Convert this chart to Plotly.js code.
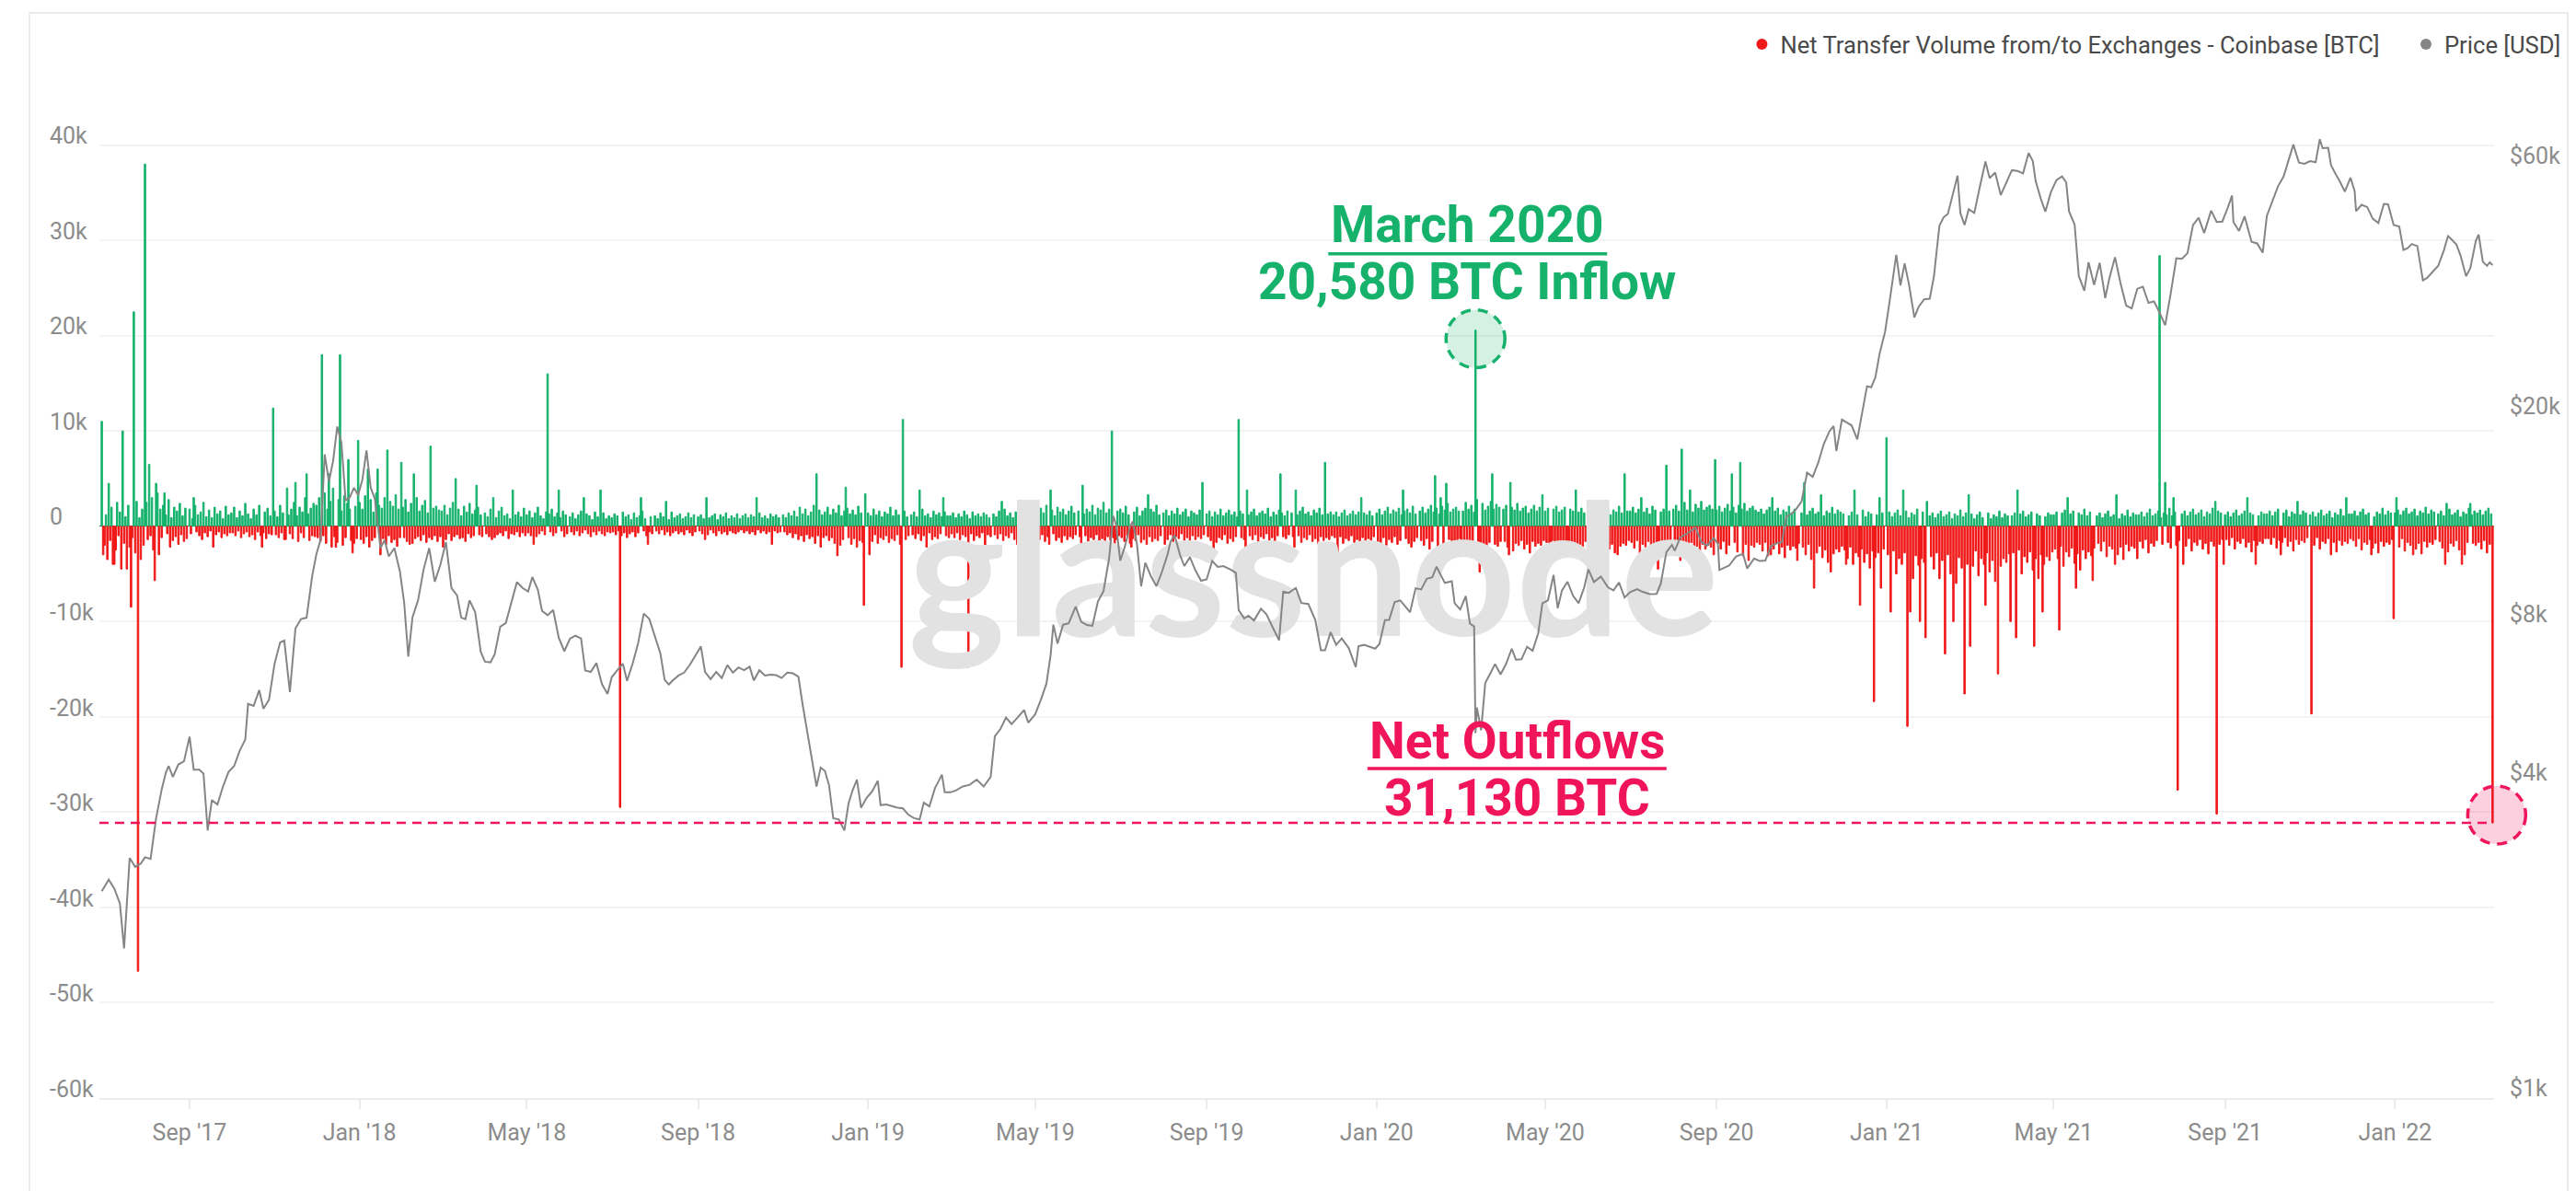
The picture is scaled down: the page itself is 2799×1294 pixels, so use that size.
<!DOCTYPE html>
<html>
<head>
<meta charset="utf-8">
<script src="https://cdn.plot.ly/plotly-3.0.1.min.js"></script>
<style>
html,body{margin:0;padding:0;background:#ffffff;}
#chart{width:2799px;height:1294px;}
</style>
</head>
<body>
<div id="chart"></div>
<script>
// ---------------- DATA ----------------
const seriesName = 'Net Transfer Volume from/to Exchanges - Coinbase [BTC]';
const priceName = 'Price [USD]';

// BTC price (USD)
const priceDates = [
'2017-06-30','2017-07-05','2017-07-09','2017-07-13','2017-07-16','2017-07-20','2017-07-24','2017-07-28','2017-07-31','2017-08-04','2017-08-08','2017-08-12','2017-08-15','2017-08-17','2017-08-20','2017-08-24','2017-08-28','2017-09-01','2017-09-04','2017-09-08','2017-09-11','2017-09-14','2017-09-17','2017-09-21','2017-09-25','2017-09-29','2017-10-03','2017-10-07','2017-10-11','2017-10-13','2017-10-17','2017-10-21','2017-10-24','2017-10-28','2017-11-01','2017-11-05','2017-11-08','2017-11-12','2017-11-16','2017-11-20','2017-11-24','2017-11-28','2017-12-01','2017-12-04','2017-12-07','2017-12-10','2017-12-13','2017-12-16','2017-12-19','2017-12-22','2017-12-25','2017-12-28','2017-12-31',
'2018-01-03','2018-01-06','2018-01-09','2018-01-12','2018-01-16','2018-01-19','2018-01-22','2018-01-26','2018-01-30','2018-02-02','2018-02-05','2018-02-08','2018-02-12','2018-02-16','2018-02-20','2018-02-24','2018-02-28','2018-03-04','2018-03-08','2018-03-12','2018-03-15','2018-03-18','2018-03-21','2018-03-25','2018-03-29','2018-04-01','2018-04-05','2018-04-08','2018-04-12','2018-04-16','2018-04-20','2018-04-24','2018-04-28','2018-05-02','2018-05-05','2018-05-09','2018-05-12','2018-05-16','2018-05-20','2018-05-24','2018-05-28','2018-06-01','2018-06-05','2018-06-09','2018-06-12','2018-06-16','2018-06-20','2018-06-24','2018-06-28','2018-07-01','2018-07-05','2018-07-09','2018-07-12','2018-07-16','2018-07-20','2018-07-24','2018-07-28','2018-08-01','2018-08-05','2018-08-08','2018-08-11','2018-08-14','2018-08-18','2018-08-22','2018-08-26','2018-08-30','2018-09-03','2018-09-06','2018-09-10','2018-09-14','2018-09-18','2018-09-22','2018-09-26','2018-09-30','2018-10-04','2018-10-08','2018-10-11','2018-10-15','2018-10-19','2018-10-23','2018-10-27','2018-10-31','2018-11-04','2018-11-08','2018-11-12','2018-11-15','2018-11-19','2018-11-22','2018-11-25','2018-11-28','2018-12-01','2018-12-04','2018-12-07','2018-12-11','2018-12-15','2018-12-18','2018-12-21','2018-12-24','2018-12-27','2018-12-31',
'2019-01-04','2019-01-08','2019-01-10','2019-01-14','2019-01-18','2019-01-22','2019-01-26','2019-01-30','2019-02-03','2019-02-07','2019-02-10','2019-02-14','2019-02-18','2019-02-23','2019-02-25','2019-03-01','2019-03-05','2019-03-10','2019-03-15','2019-03-20','2019-03-25','2019-03-30','2019-04-02','2019-04-06','2019-04-10','2019-04-14','2019-04-18','2019-04-23','2019-04-26','2019-05-01','2019-05-05','2019-05-09','2019-05-12','2019-05-14','2019-05-17','2019-05-21','2019-05-25','2019-05-30','2019-06-03','2019-06-07','2019-06-11','2019-06-15','2019-06-19','2019-06-23','2019-06-26','2019-06-28','2019-07-01','2019-07-04','2019-07-08','2019-07-10','2019-07-13','2019-07-16','2019-07-19','2019-07-23','2019-07-27','2019-07-31','2019-08-04','2019-08-06','2019-08-09','2019-08-13','2019-08-16','2019-08-20','2019-08-24','2019-08-28','2019-09-01','2019-09-05','2019-09-09','2019-09-13','2019-09-18','2019-09-22','2019-09-24','2019-09-28','2019-10-01','2019-10-05','2019-10-10','2019-10-14','2019-10-18','2019-10-23','2019-10-26','2019-10-30','2019-11-04','2019-11-08','2019-11-13','2019-11-18','2019-11-22','2019-11-25','2019-11-29','2019-12-03','2019-12-07','2019-12-12','2019-12-17','2019-12-19','2019-12-23','2019-12-27','2019-12-31',
'2020-01-03','2020-01-07','2020-01-10','2020-01-14','2020-01-18','2020-01-22','2020-01-25','2020-01-29','2020-02-02','2020-02-06','2020-02-10','2020-02-13','2020-02-16','2020-02-19','2020-02-24','2020-02-26','2020-03-01','2020-03-05','2020-03-08','2020-03-11','2020-03-12','2020-03-13','2020-03-16','2020-03-19','2020-03-23','2020-03-26','2020-03-30','2020-04-03','2020-04-07','2020-04-10','2020-04-14','2020-04-18','2020-04-22','2020-04-26','2020-04-29','2020-05-03','2020-05-07','2020-05-10','2020-05-13','2020-05-17','2020-05-21','2020-05-25','2020-05-29','2020-06-01','2020-06-05','2020-06-10','2020-06-15','2020-06-19','2020-06-23','2020-06-27','2020-07-01','2020-07-06','2020-07-10','2020-07-15','2020-07-20','2020-07-23','2020-07-27','2020-07-31','2020-08-02','2020-08-06','2020-08-10','2020-08-17','2020-08-21','2020-08-25','2020-08-30','2020-09-02','2020-09-03','2020-09-06','2020-09-10','2020-09-15','2020-09-20','2020-09-23','2020-09-28','2020-10-02','2020-10-06','2020-10-10','2020-10-14','2020-10-18','2020-10-21','2020-10-25','2020-10-28','2020-11-01','2020-11-05','2020-11-09','2020-11-13','2020-11-17','2020-11-21','2020-11-24','2020-11-26','2020-11-30','2020-12-03','2020-12-07','2020-12-11','2020-12-16','2020-12-18','2020-12-21','2020-12-24','2020-12-27','2020-12-31',
'2021-01-03','2021-01-07','2021-01-08','2021-01-11','2021-01-14','2021-01-17','2021-01-21','2021-01-24','2021-01-28','2021-02-01','2021-02-04','2021-02-08','2021-02-11','2021-02-14','2021-02-17','2021-02-21','2021-02-23','2021-02-26','2021-03-01','2021-03-05','2021-03-09','2021-03-13','2021-03-16','2021-03-20','2021-03-24','2021-03-28','2021-04-01','2021-04-05','2021-04-09','2021-04-13','2021-04-16','2021-04-18','2021-04-22','2021-04-25','2021-04-29','2021-05-03','2021-05-07','2021-05-10','2021-05-12','2021-05-16','2021-05-19','2021-05-23','2021-05-26','2021-05-30','2021-06-03','2021-06-07','2021-06-10','2021-06-14','2021-06-18','2021-06-22','2021-06-26','2021-06-30','2021-07-04','2021-07-08','2021-07-12','2021-07-16','2021-07-20','2021-07-24','2021-07-28','2021-08-01','2021-08-05','2021-08-09','2021-08-13','2021-08-17','2021-08-22','2021-08-26','2021-08-30','2021-09-03','2021-09-06','2021-09-07','2021-09-11','2021-09-15','2021-09-20','2021-09-24','2021-09-28','2021-10-01','2021-10-05','2021-10-09','2021-10-13','2021-10-16','2021-10-20','2021-10-24','2021-10-28','2021-11-01','2021-11-05','2021-11-08','2021-11-10','2021-11-14','2021-11-16','2021-11-19','2021-11-22','2021-11-26','2021-11-30','2021-12-03','2021-12-04','2021-12-08','2021-12-12','2021-12-16','2021-12-20','2021-12-24','2021-12-27','2021-12-31',
'2022-01-04','2022-01-07','2022-01-10','2022-01-13','2022-01-17','2022-01-21','2022-01-24','2022-01-28','2022-02-01','2022-02-05','2022-02-08','2022-02-10','2022-02-14','2022-02-17','2022-02-21','2022-02-24','2022-02-28','2022-03-02','2022-03-05','2022-03-08','2022-03-10','2022-03-12'
];
const priceValues = [
2480,2610,2510,2350,1930,2870,2760,2800,2880,2860,3420,3880,4180,4300,4100,4330,4390,4890,4230,4230,4160,3240,3700,3630,3930,4190,4300,4600,4830,5650,5600,6000,5530,5750,6740,7400,7460,5950,7870,8200,8250,9900,10900,11600,16900,15000,16400,19100,17800,13800,14000,14600,14150,
15100,17200,14600,13900,11200,11600,10800,11200,10100,8830,6950,8260,8900,10200,11200,9660,10400,11500,9400,9100,8250,8200,8900,8450,7100,6800,6780,7020,7930,8060,8850,9650,9400,9250,9860,9320,8500,8340,8530,7550,7120,7520,7620,7530,6540,6500,6760,6160,5900,6350,6550,6740,6250,6740,7380,8400,8200,7600,7040,6280,6150,6270,6400,6480,6700,6980,7270,6500,6300,6500,6330,6700,6480,6630,6550,6650,6260,6550,6400,6420,6410,6330,6480,6460,6370,5640,4870,4380,3930,4270,4210,3950,3420,3400,3240,3650,3870,4050,3580,3740,
3850,4030,3620,3630,3600,3580,3570,3470,3420,3400,3660,3600,3900,4140,3830,3830,3860,3930,3960,4050,3930,4100,4900,5060,5320,5170,5310,5500,5200,5400,5750,6170,6990,8000,7360,8000,8050,8660,8100,7990,7960,8860,9270,10700,12900,12400,10600,11200,12300,12600,11400,9470,10500,9900,9470,10100,10900,11500,11850,10850,10350,10760,10150,9700,9760,10580,10310,10350,10200,10050,8530,8220,8320,8150,8580,8370,7950,7470,9250,9200,9400,8800,8760,8170,7150,7150,7740,7320,7530,7220,6640,7280,7320,7250,7200,
7350,8160,8170,8840,8900,8650,8450,9390,9340,9790,9850,10320,9930,9610,9680,8790,8550,9070,8040,7940,4970,5560,5030,6190,6490,6730,6430,6740,7200,6860,6870,7260,7130,7700,8790,8900,9950,8600,9290,9660,9080,8790,9420,10200,9650,9880,9430,9300,9630,9010,9230,9350,9240,9150,9160,9590,11000,11350,11070,11750,11900,12250,11520,11320,11700,11420,10170,10250,10370,10790,10920,10240,10700,10580,10600,11300,11430,11500,12850,13030,13280,13740,15600,15310,16300,17700,18700,19150,17150,19700,19450,19190,18050,21300,22800,22700,23700,26300,28990,
32800,39400,40600,35500,39100,35800,30850,32300,33400,33500,36900,46200,47900,48600,52100,57500,48800,46300,49600,48800,54800,61200,56900,58300,52800,55800,58900,58700,58100,63500,61300,56200,51700,49100,53500,56400,57300,55800,49150,46400,37000,34700,39300,35600,39200,33600,36700,40200,35800,32500,32100,35000,35300,32900,33100,31500,29800,34300,40000,39900,40900,46300,47800,44700,49300,46900,47000,50000,52700,46900,45100,48100,43000,42700,41000,48200,51500,54900,57300,60900,65900,60900,60600,61300,61000,67500,64900,65000,60300,58100,56300,53600,57000,53700,49200,50600,50100,47600,46700,50800,50700,46300,
46000,41500,41800,42600,42200,36300,36700,37700,38700,41400,44100,43600,42500,40500,37000,38300,43200,44400,39400,38700,39300,38800
];

// Notable daily net transfers (BTC)
const spikeDates = [
'2017-06-30','2017-07-15','2017-07-23','2017-07-31','2017-08-03','2017-08-08','2017-08-14','2017-09-04','2017-10-31','2017-11-10','2017-11-16','2017-11-24','2017-12-05','2017-12-10','2017-12-18','2017-12-24','2017-12-31',
'2018-01-07','2018-01-14','2018-01-21','2018-01-31','2018-02-09','2018-02-21','2018-03-11','2018-03-26','2018-04-07','2018-04-21','2018-05-16','2018-05-24','2018-06-11','2018-06-23','2018-07-22','2018-08-09','2018-09-07','2018-10-13','2018-11-25','2018-12-16','2018-12-30',
'2019-01-26','2019-02-07','2019-02-24','2019-04-07','2019-05-12','2019-06-04','2019-06-25','2019-07-21','2019-08-29','2019-09-24','2019-09-30','2019-10-24','2019-11-04','2019-11-25','2019-12-21',
'2020-01-20','2020-02-12','2020-02-16','2020-02-20','2020-03-12','2020-03-24','2020-04-06','2020-04-29','2020-05-23','2020-06-27','2020-07-09','2020-07-27','2020-08-07','2020-08-13','2020-08-31','2020-09-12','2020-09-18','2020-10-11','2020-11-03','2020-11-15','2020-12-09','2020-12-27',
'2021-01-01','2021-01-13','2021-01-30','2021-03-01','2021-04-05','2021-05-11','2021-06-15','2021-07-16','2021-07-20','2021-07-26','2021-08-25','2021-09-17','2021-10-23','2021-11-27','2022-01-02','2022-02-07','2022-02-24',
'2017-07-01','2017-07-09','2017-07-14','2017-07-21','2017-07-26','2017-08-02','2017-08-07','2017-09-18','2017-10-23','2017-11-09','2017-12-15','2017-12-27',
'2018-01-08','2018-01-16','2018-02-06','2018-03-02','2018-04-06','2018-05-06','2018-07-07','2018-07-27','2018-09-06','2018-10-24','2018-11-28','2018-12-10','2018-12-29',
'2019-01-02','2019-01-25','2019-02-12','2019-03-14','2019-03-26','2019-04-18','2019-05-11','2019-06-03','2019-06-27','2019-07-09','2019-08-02','2019-09-06','2019-09-29','2019-11-03','2019-12-04',
'2020-01-02','2020-01-26','2020-02-14','2020-02-18','2020-03-04','2020-03-15','2020-04-05','2020-05-05','2020-05-17','2020-06-10','2020-06-22','2020-07-08','2020-07-21','2020-08-06','2020-08-30','2020-09-24','2020-10-10','2020-10-29','2020-11-10','2020-11-22','2020-12-03','2020-12-13','2020-12-23','2020-12-28',
'2021-01-04','2021-01-16','2021-01-18','2021-01-25','2021-01-29','2021-02-12','2021-02-18','2021-02-26','2021-03-02','2021-03-13','2021-03-22','2021-03-31','2021-04-04','2021-04-17','2021-04-23','2021-05-05','2021-05-17','2021-05-29','2021-06-14','2021-06-30','2021-07-29','2021-08-02','2021-08-26','2021-08-31','2021-09-23','2021-10-11','2021-11-02','2021-11-16','2021-12-15','2021-12-31',
'2022-01-14','2022-02-06','2022-02-18','2022-03-12'
];
const spikeValues = [
11000,10000,22500,38000,6500,4500,3500,3000,12400,4000,4600,5500,18000,5500,18000,7000,9000,
6000,6000,8000,6700,5500,8400,5000,4300,3000,3800,16000,3800,3000,3800,3000,2600,3000,3000,5500,4100,3400,
11200,3800,3000,2600,3800,4300,10000,3300,4600,11200,3800,5500,3800,6700,3000,
3800,5300,3000,4500,20580,5500,4600,3300,3800,5500,3000,6400,8100,3800,7000,5500,6700,3000,4600,3300,3800,3000,
9300,3800,2600,3300,3800,3000,3300,28400,4600,3000,2600,3000,2600,3000,3000,2400,2400,
-3000,-4000,-4500,-8500,-46700,-1400,-5700,-2200,-2200,-1400,-2200,-2800,
-2200,-3000,-1900,-2200,-1400,-1900,-29500,-1900,-1400,-1900,-2200,-3100,-8300,
-3000,-14800,-2200,-14800,-2800,-1900,-1900,-2200,-3000,-2200,-1900,-2800,-3000,-2200,-3000,
-3000,-2200,-5500,-3100,-2900,-4800,-3000,-4000,-2800,-4000,-3000,-4000,-4500,-3600,-3000,-3600,-3000,-3600,-6500,-4800,-4000,-8300,-18400,-6500,
-9000,-21000,-9000,-10000,-11700,-13400,-10000,-17600,-12600,-8300,-15500,-10000,-11700,-12600,-9000,-10900,-6500,-5700,-4000,-3400,-27700,-4000,-30200,-4000,-4000,-3000,-19700,-3000,-3000,-9700,
-3000,-4000,-4000,-31130
];

// Everyday background flows, in hundreds of BTC, one row per month starting Jul 2017
// inflow days: 1st,3rd,5th...; outflow days: 2nd,4th,6th...
const inflowBase = [
[30,12,45,20,8,25,15,38,10,22,30,14,26,9,18],
[25,14,30,10,35,18,22,12,28,9,20,16,24,11,19],
[18,8,22,12,15,25,10,17,9,20,13,16,8,21,12],
[14,20,9,16,11,24,13,8,18,12,22,10,15,19,11],
[16,10,22,14,28,12,18,25,11,20,15,30,13,19,24],
[22,30,15,35,18,26,40,20,28,16,32,24,18,27,21],
[25,18,32,20,28,15,35,22,19,30,17,26,21,33,18],
[20,28,15,24,18,30,16,22,27,14,25,19,21,17,23],
[16,22,12,19,25,14,18,11,21,15,24,13,17,20,12],
[14,10,18,12,9,16,20,11,13,8,17,12,15,10,19],
[12,16,9,14,20,11,8,15,13,18,10,14,9,16,12],
[10,14,8,12,16,9,13,11,7,15,10,12,14,8,11],
[9,13,11,8,15,10,12,7,14,9,11,16,8,12,10],
[11,8,14,10,12,7,15,9,11,13,8,10,14,9,12],
[10,12,8,15,9,11,13,7,12,10,14,8,11,9,13],
[8,11,13,9,12,10,7,14,9,11,8,13,10,12,9],
[12,9,14,11,16,10,20,13,18,11,15,22,14,17,12],
[15,20,12,18,14,22,11,16,19,13,17,12,21,14,16],
[14,11,18,12,16,10,15,13,20,11,17,12,14,16,10],
[12,15,10,14,18,11,13,9,16,12,14,10,15,11,13],
[11,14,9,13,10,16,12,8,15,11,13,10,14,12,9],
[13,10,16,12,18,11,14,9,15,13,17,10,12,14,11],
[15,12,19,14,22,13,17,11,20,15,18,12,16,21,14],
[16,20,13,18,15,22,12,19,17,25,14,18,21,13,16],
[18,14,21,12,17,15,20,11,16,19,13,18,15,22,12],
[14,17,11,16,13,19,12,15,18,10,16,14,12,17,11],
[13,16,10,15,12,18,11,14,17,12,15,10,16,13,14],
[12,15,18,11,14,16,13,19,10,15,12,17,14,11,16],
[14,18,12,16,20,13,15,11,17,14,19,12,16,13,15],
[12,15,10,14,17,11,13,16,12,15,10,14,12,16,11],
[14,18,12,16,20,13,17,15,19,12,16,18,14,21,13],
[16,20,14,18,22,15,19,13,21,17,24,15,18,20,16],
[20,16,25,18,22,15,28,19,24,17,21,26,18,23,20],
[18,22,15,20,17,24,16,19,21,14,18,22,16,20,17],
[16,19,14,18,21,15,17,20,13,18,16,22,15,19,14],
[15,18,13,17,20,14,16,19,12,17,15,21,14,18,16],
[16,20,14,18,22,15,19,13,21,17,23,15,18,20,16],
[18,22,16,20,25,17,21,15,23,19,26,17,20,22,18],
[17,21,15,19,23,16,20,14,22,18,24,16,19,21,17],
[15,18,13,17,20,14,16,19,12,17,15,21,14,18,16],
[14,17,12,16,19,13,15,18,11,16,14,20,13,17,15],
[13,16,11,15,18,12,14,17,10,15,13,19,12,16,14],
[12,15,10,14,17,11,13,16,9,14,12,18,11,15,13],
[11,14,9,13,16,10,12,15,8,13,11,17,10,14,12],
[10,13,8,12,15,9,11,14,8,12,10,16,9,13,11],
[11,14,9,13,16,10,12,15,8,13,11,17,10,14,12],
[12,15,10,14,17,11,13,16,9,14,12,18,11,15,13],
[11,14,9,13,16,10,12,15,8,13,11,17,10,14,12],
[12,15,10,14,18,11,13,16,9,14,12,19,11,15,13],
[13,16,11,15,18,12,14,17,10,15,13,19,12,16,14],
[12,15,10,14,17,11,13,16,9,14,12,18,11,15,13],
[13,16,11,15,18,12,14,17,10,15,13,19,12,16,14],
[12,15,10,14,17,11,13,16,9,14,12,18,11,15,13],
[13,16,11,15,18,12,14,17,10,15,13,19,12,16,14],
[14,17,12,16,19,13,15,18,11,16,14,20,13,17,15],
[13,16,11,15,18,12,14,17,10,15,13,19,12,16,14],
[14,17,12,16,19,13]
];
const outflowBase = [
[-20,-35,-15,-40,-25,-10,-30,-18,-45,-22,-12,-28,-16,-35,-20],
[-18,-10,-25,-14,-30,-12,-20,-8,-22,-15,-11,-19,-9,-16,-13],
[-8,-12,-6,-10,-14,-7,-11,-5,-13,-9,-6,-12,-8,-10,-7],
[-7,-10,-5,-12,-8,-6,-11,-9,-14,-6,-10,-7,-13,-8,-9],
[-9,-12,-7,-14,-10,-8,-13,-11,-16,-7,-12,-9,-15,-10,-11],
[-12,-16,-10,-18,-13,-22,-11,-17,-14,-20,-12,-25,-15,-18,-13],
[-14,-18,-11,-20,-15,-12,-22,-16,-13,-19,-10,-17,-14,-21,-12],
[-12,-16,-10,-18,-13,-11,-15,-9,-17,-12,-14,-10,-16,-11,-13],
[-10,-14,-8,-15,-11,-9,-13,-12,-16,-8,-12,-10,-14,-9,-11],
[-8,-11,-6,-12,-9,-7,-10,-5,-13,-8,-9,-6,-11,-7,-10],
[-7,-10,-6,-11,-8,-5,-9,-12,-6,-10,-7,-9,-5,-11,-8],
[-6,-9,-5,-10,-7,-4,-8,-11,-6,-9,-5,-8,-10,-6,-7],
[-6,-9,-5,-10,-7,-12,-8,-6,-11,-7,-9,-5,-10,-6,-8],
[-5,-8,-4,-9,-6,-10,-7,-5,-8,-6,-9,-4,-7,-10,-6],
[-5,-8,-6,-9,-4,-7,-10,-5,-8,-6,-9,-5,-7,-8,-6],
[-4,-7,-5,-8,-6,-9,-4,-7,-5,-8,-6,-10,-5,-7,-6],
[-6,-9,-7,-12,-8,-14,-10,-16,-9,-13,-11,-18,-10,-14,-12],
[-10,-15,-12,-18,-11,-20,-14,-16,-12,-19,-13,-22,-15,-17,-12],
[-11,-16,-9,-18,-12,-14,-10,-17,-13,-15,-9,-19,-12,-14,-10],
[-9,-13,-8,-15,-10,-12,-7,-14,-11,-13,-8,-16,-10,-12,-9],
[-8,-12,-7,-14,-9,-11,-13,-8,-15,-10,-12,-7,-14,-9,-11],
[-9,-13,-8,-15,-10,-12,-7,-14,-11,-16,-9,-13,-10,-12,-8],
[-10,-14,-9,-16,-11,-13,-8,-15,-12,-17,-10,-14,-11,-13,-9],
[-11,-15,-10,-17,-12,-14,-9,-16,-13,-18,-11,-15,-12,-14,-10],
[-12,-16,-10,-18,-13,-15,-9,-17,-14,-19,-11,-16,-13,-15,-10],
[-10,-14,-9,-16,-11,-13,-8,-15,-12,-17,-10,-14,-11,-13,-9],
[-11,-15,-10,-17,-12,-14,-9,-18,-13,-16,-11,-15,-12,-14,-10],
[-10,-14,-9,-16,-11,-13,-8,-15,-12,-17,-10,-14,-11,-13,-9],
[-11,-15,-10,-17,-12,-14,-9,-16,-13,-18,-11,-15,-12,-14,-10],
[-12,-16,-11,-18,-13,-15,-10,-17,-14,-19,-12,-16,-13,-15,-11],
[-13,-18,-12,-20,-14,-17,-11,-19,-15,-22,-13,-18,-14,-16,-12],
[-15,-20,-13,-24,-16,-19,-12,-22,-17,-25,-14,-20,-16,-18,-13],
[-18,-24,-15,-28,-19,-22,-16,-26,-20,-30,-17,-23,-19,-21,-16],
[-16,-22,-14,-26,-18,-20,-15,-24,-19,-28,-16,-21,-18,-20,-15],
[-17,-23,-15,-27,-19,-21,-16,-25,-20,-30,-17,-22,-19,-21,-16],
[-16,-22,-14,-26,-18,-20,-15,-24,-19,-28,-16,-21,-18,-20,-15],
[-17,-23,-15,-28,-19,-22,-16,-26,-20,-30,-18,-23,-19,-21,-16],
[-18,-25,-16,-30,-20,-23,-17,-27,-21,-32,-19,-24,-20,-22,-17],
[-18,-24,-16,-29,-20,-23,-17,-27,-21,-31,-19,-24,-20,-22,-17],
[-19,-26,-17,-31,-21,-24,-18,-29,-22,-33,-20,-25,-21,-23,-18],
[-22,-30,-19,-35,-24,-28,-21,-33,-25,-38,-23,-29,-24,-27,-21],
[-25,-34,-22,-40,-28,-32,-24,-38,-29,-44,-26,-33,-28,-31,-24],
[-30,-42,-26,-50,-34,-40,-28,-46,-35,-55,-31,-41,-34,-38,-29],
[-32,-45,-28,-55,-36,-42,-30,-50,-38,-60,-33,-44,-36,-40,-31],
[-30,-42,-26,-52,-34,-40,-28,-48,-36,-58,-31,-42,-34,-38,-29],
[-28,-40,-25,-50,-32,-38,-27,-46,-34,-55,-30,-40,-32,-36,-27],
[-24,-34,-21,-42,-27,-32,-23,-39,-29,-46,-25,-34,-27,-31,-23],
[-18,-26,-16,-32,-21,-24,-17,-30,-22,-35,-19,-26,-21,-23,-17],
[-16,-23,-14,-28,-18,-21,-15,-26,-19,-31,-17,-23,-18,-20,-15],
[-15,-21,-13,-26,-17,-20,-14,-24,-18,-29,-16,-21,-17,-19,-14],
[-14,-20,-12,-24,-16,-18,-13,-22,-17,-27,-15,-20,-16,-18,-13],
[-13,-19,-12,-23,-15,-17,-12,-21,-16,-26,-14,-19,-15,-17,-12],
[-14,-20,-12,-24,-16,-18,-13,-22,-17,-27,-15,-20,-16,-18,-13],
[-15,-21,-13,-25,-17,-19,-14,-23,-18,-28,-16,-21,-17,-19,-14],
[-15,-22,-13,-26,-17,-20,-14,-24,-18,-29,-16,-22,-17,-19,-14],
[-16,-23,-14,-27,-18,-21,-15,-25,-19,-30,-17,-23,-18,-20,-15],
[-17,-24,-15,-28,-19,-22]
];

// Axis ticks
const xTickVals = ['2017-09-01','2018-01-01','2018-05-01','2018-09-01','2019-01-01','2019-05-01','2019-09-01','2020-01-01','2020-05-01','2020-09-01','2021-01-01','2021-05-01','2021-09-01','2022-01-01'];
const xTickText = ["Sep '17","Jan '18","May '18","Sep '18","Jan '19","May '19","Sep '19","Jan '20","May '20","Sep '20","Jan '21","May '21","Sep '21","Jan '22"];
const yTickVals = [-60000,-50000,-40000,-30000,-20000,-10000,0,10000,20000,30000,40000,50000];
const yTickText = ['-60k','-50k','-40k','-30k','-20k','-10k','0','10k','20k','30k','40k',''];
const priceTickVals = [1000,4000,8000,20000,60000];
const priceTickText = ['$1k','$4k','$8k','$20k','$60k'];

// Highlighted events
const inflowDate = '2020-03-12', inflowValue = 20580;
const inflowTitle = 'March 2020', inflowLabel = '20,580 BTC Inflow';
const outflowDate = '2022-03-12', outflowValue = -31130;
const outflowTitle = 'Net Outflows', outflowLabel = '31,130 BTC';

// ---------------- STYLE / GEOMETRY ----------------
const GREEN = '#16b26c', RED = '#f01919', PINK = '#f0155a', GREY = '#858585';
const X_RANGE = ['2017-06-28 06:00', '2022-03-13 02:00'];
const Y_RANGE = [-60000, 50000];
const ML = 40, MR = 87, MT = 54, MB = 101, W = 2799, H = 1294;
const PW = W - ML - MR, PH = H - MT - MB;
const X_DOMAIN0 = (108 - ML) / PW;

const ms = s => Date.parse((s.length === 10 ? s + 'T00:00:00' : s.replace(' ', 'T')) + 'Z');
const DAY = 86400000;

// Build the daily flow series
const flow = new Map();
inflowBase.forEach((row, i) => {
  const start = Date.UTC(2017, 6 + i, 1);
  row.forEach((v, k) => flow.set(new Date(start + 2 * k * DAY).toISOString().slice(0, 10), v * 100));
});
outflowBase.forEach((row, i) => {
  const start = Date.UTC(2017, 6 + i, 1);
  row.forEach((v, k) => flow.set(new Date(start + (2 * k + 1) * DAY).toISOString().slice(0, 10), v * 100));
});
spikeDates.forEach((d, i) => flow.set(d, spikeValues[i]));
const flowDates = Array.from(flow.keys()).filter(d => d <= outflowDate).sort();
const flowValues = flowDates.map(d => flow.get(d));
const flowColors = flowValues.map(v => v >= 0 ? GREEN : RED);

// paper position helpers (for decorations that may cross the plot edge)
const xPaper = d => X_DOMAIN0 + (1 - X_DOMAIN0) * (ms(d) - ms(X_RANGE[0])) / (ms(X_RANGE[1]) - ms(X_RANGE[0]));
const yPaper = v => (v - Y_RANGE[0]) / (Y_RANGE[1] - Y_RANGE[0]);
const xAt = f => new Date(ms(X_RANGE[0]) + f * (ms(X_RANGE[1]) - ms(X_RANGE[0]))).toISOString().slice(0, 19).replace('T', ' ');
const pxX = px => (px - ML) / PW, pxY = py => 1 - (py - MT) / PH;

const tickFont = {family: 'Roboto, sans-serif', size: 25, color: '#8c8c8c'};
const GAP = '\u00a0\u00a0\u00a0\u00a0';

const traces = [
  { // watermark (under the data)
    type: 'scatter', mode: 'text', x: [xAt(0.507)], y: [Y_RANGE[0] + 0.485 * (Y_RANGE[1] - Y_RANGE[0])],
    text: ['glassnode'], textfont: {family: 'Lato, sans-serif', size: 200, color: '#e2e2e2', weight: 700},
    showlegend: false, hoverinfo: 'skip', cliponaxis: false
  },
  {
    type: 'bar', x: flowDates, y: flowValues, name: seriesName,
    marker: {color: flowColors, line: {color: flowColors, width: 1}},
    showlegend: false, hoverinfo: 'skip'
  },
  {
    type: 'scatter', mode: 'lines', x: priceDates, y: priceValues, yaxis: 'y2', name: priceName,
    line: {color: GREY, width: 2}, showlegend: false, hoverinfo: 'skip'
  },
  { type: 'scatter', mode: 'markers', x: [null], y: [null], name: seriesName + GAP, marker: {color: RED, size: 15}, showlegend: true },
  { type: 'scatter', mode: 'markers', x: [null], y: [null], name: priceName, marker: {color: GREY, size: 15}, showlegend: true }
];

const titleX = pxX(1650);
const layout = {
  width: W, height: H,
  margin: {l: ML, r: MR, t: MT, b: MB, pad: 0},
  paper_bgcolor: '#ffffff', plot_bgcolor: '#ffffff',
  font: {family: 'Roboto, sans-serif', size: 25, color: '#8c8c8c'},
  bargap: 0, barmode: 'relative',
  showlegend: true,
  legend: {
    orientation: 'h', x: 1.029, xanchor: 'right', y: 1.005, yanchor: 'middle',
    font: {family: 'Roboto, sans-serif', size: 25.6, color: '#4a4a4a'},
    bgcolor: 'rgba(255,255,255,0)', itemsizing: 'constant', traceorder: 'normal'
  },
  xaxis: {
    type: 'date', domain: [X_DOMAIN0, 1], range: X_RANGE,
    tickvals: xTickVals, ticktext: xTickText, tickfont: tickFont,
    showgrid: false, zeroline: false, showline: true, linecolor: '#ececec', linewidth: 2,
    ticks: 'outside', ticklen: 10, tickcolor: '#ececec', tickwidth: 2, ticklabelstandoff: 4
  },
  yaxis: {
    range: Y_RANGE, tickvals: yTickVals, ticktext: yTickText, tickfont: tickFont,
    side: 'right', anchor: 'free', position: 0,
    showgrid: true, gridcolor: '#f3f3f3', gridwidth: 2,
    zeroline: true, zerolinecolor: '#5a5a5a', zerolinewidth: 1.5, showline: false,
    ticks: '', ticklabelstandoff: 13, ticklabelshift: -10
  },
  yaxis2: {
    overlaying: 'y', side: 'right', anchor: 'x', type: 'log', range: [3, 5],
    tickvals: priceTickVals, ticktext: priceTickText, tickfont: tickFont,
    showgrid: false, zeroline: false, showline: false, ticks: '', ticklabelstandoff: 16, ticklabelshift: -11
  },
  shapes: [
    // card border
    {type: 'rect', xref: 'paper', yref: 'paper', x0: pxX(32), x1: pxX(2792), y0: pxY(1300), y1: pxY(14),
     line: {color: '#ececec', width: 2}, fillcolor: 'rgba(0,0,0,0)', layer: 'below'},
    {type: 'line', xref: 'x', yref: 'y', x0: X_RANGE[0], x1: outflowDate, y0: outflowValue, y1: outflowValue,
     line: {color: PINK, width: 2.5, dash: '10px,7px'}, layer: 'above'},
    {type: 'circle', xref: 'x', yref: 'y', xsizemode: 'pixel', ysizemode: 'pixel',
     xanchor: inflowDate, yanchor: inflowValue, x0: -32, x1: 32, y0: -41, y1: 22,
     fillcolor: 'rgba(22,178,108,0.18)', line: {color: GREEN, width: 3.5, dash: '11px,8px'}, layer: 'above'},
    {type: 'circle', xref: 'paper', yref: 'paper', xsizemode: 'pixel', ysizemode: 'pixel',
     xanchor: xPaper(outflowDate), yanchor: yPaper(outflowValue), x0: -27, x1: 36, y0: -23, y1: 40,
     fillcolor: 'rgba(240,21,90,0.2)', line: {color: PINK, width: 3.5, dash: '11px,8px'}, layer: 'above'},
    {type: 'line', xref: 'x', yref: 'y', xsizemode: 'pixel', ysizemode: 'pixel',
     xanchor: inflowDate, yanchor: inflowValue, x0: -160, x1: 143, y0: 83, y1: 83,
     line: {color: GREEN, width: 3.5}},
    {type: 'line', xref: 'paper', yref: 'y', xsizemode: 'pixel', ysizemode: 'pixel',
     xanchor: titleX, yanchor: outflowValue, x0: -163, x1: 162, y0: 59, y1: 59,
     line: {color: PINK, width: 3.5}}
  ],
  annotations: [
    {xref: 'x', yref: 'y', x: inflowDate, y: inflowValue, xshift: -9, yshift: 115, showarrow: false,
     text: '<b>' + inflowTitle + '</b>', font: {family: 'Roboto, sans-serif', size: 55, color: GREEN}, xanchor: 'center', yanchor: 'middle'},
    {xref: 'x', yref: 'y', x: inflowDate, y: inflowValue, xshift: -9, yshift: 53, showarrow: false,
     text: '<b>' + inflowLabel + '</b>', font: {family: 'Roboto, sans-serif', size: 55, color: GREEN}, xanchor: 'center', yanchor: 'middle'},
    {xref: 'paper', yref: 'y', x: titleX, y: outflowValue, yshift: 89, showarrow: false,
     text: '<b>' + outflowTitle + '</b>', font: {family: 'Roboto, sans-serif', size: 55, color: PINK}, xanchor: 'center', yanchor: 'middle'},
    {xref: 'paper', yref: 'y', x: titleX, y: outflowValue, yshift: 27, showarrow: false,
     text: '<b>' + outflowLabel + '</b>', font: {family: 'Roboto, sans-serif', size: 55, color: PINK}, xanchor: 'center', yanchor: 'middle'}
  ]
};

Plotly.newPlot('chart', traces, layout, {staticPlot: true, displayModeBar: false});
</script>
</body>
</html>
